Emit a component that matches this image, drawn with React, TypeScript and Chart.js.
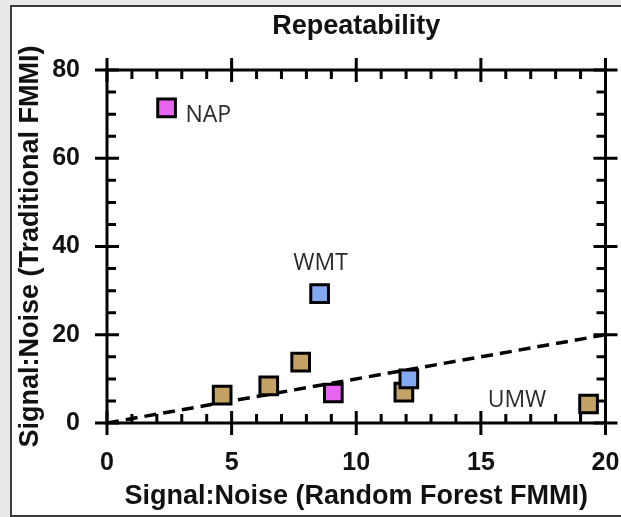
import React, { useEffect, useRef } from "react";
import { Chart, registerables } from "chart.js";

Chart.register(...registerables);

// ---- data ----
const pointX = [2.39, 8.53, 4.62, 6.49, 7.77, 9.08, 11.91, 12.11, 19.32];
const pointY = [71.4, 29.3, 6.3, 8.4, 13.8, 6.8, 7.0, 10.0, 4.3];
const pointGroup = ["NAP", "WMT", "UMW", "UMW", "UMW", "NAP", "UMW", "WMT", "UMW"];
const fitLineX = [0, 20];
const fitLineY = [0, 20];
const labelText = ["NAP", "WMT", "UMW"];
const labelX = [3.15, 8.57, 16.45];
const labelY = [69.8, 36.1, 5.0];
const xTicks = [0, 5, 10, 15, 20];
const yTicks = [0, 20, 40, 60, 80];

const groupColor: Record<string, string> = {
  NAP: "#E865F2",
  WMT: "#82AAF4",
  UMW: "#C4A266",
};

const FONT = "'Liberation Sans', Arial, sans-serif";

const frameAxesPlugin = {
  id: "frameAxes",
  beforeDatasetsDraw(chart: any) {
    const { ctx, chartArea } = chart;
    const xs = chart.scales.x;
    const ys = chart.scales.y;
    const { left, right, top, bottom } = chartArea;
    ctx.save();
    ctx.strokeStyle = "#000";
    ctx.lineWidth = 3;
    ctx.lineCap = "butt";
    ctx.beginPath();
    ctx.rect(left, top, right - left, bottom - top);
    ctx.stroke();
    const major = 12;
    const minor = 9;
    ctx.beginPath();
    for (let v = 0; v <= 20; v += 1) {
      const px = xs.getPixelForValue(v);
      const isMajor = v % 5 === 0;
      if (isMajor) {
        ctx.moveTo(px, bottom + major);
        ctx.lineTo(px, bottom - major);
        ctx.moveTo(px, top - major);
        ctx.lineTo(px, top + major);
      } else {
        ctx.moveTo(px, bottom);
        ctx.lineTo(px, bottom - minor);
        ctx.moveTo(px, top);
        ctx.lineTo(px, top + minor);
      }
    }
    for (let v = 0; v <= 80; v += 5) {
      const py = ys.getPixelForValue(v);
      const isMajor = v % 20 === 0;
      if (isMajor) {
        ctx.moveTo(left - major, py);
        ctx.lineTo(left + major, py);
        ctx.moveTo(right - major, py);
        ctx.lineTo(right + major, py);
      } else {
        ctx.moveTo(left, py);
        ctx.lineTo(left + minor, py);
        ctx.moveTo(right, py);
        ctx.lineTo(right - minor, py);
      }
    }
    ctx.stroke();
    ctx.restore();
  },
  afterDatasetsDraw(chart: any) {
    const { ctx } = chart;
    const xs = chart.scales.x;
    const ys = chart.scales.y;
    ctx.save();
    ctx.fillStyle = "#2a2a2a";
    ctx.font = "23px 'Open Sans'";
    ctx.textBaseline = "middle";
    labelText.forEach((t, i) => {
      ctx.textAlign = i === 0 ? "left" : "center";
      ctx.fillText(t, xs.getPixelForValue(labelX[i]), ys.getPixelForValue(labelY[i]));
    });
    ctx.restore();
  },
};

export default function App() {
  const ref = useRef<HTMLCanvasElement | null>(null);
  useEffect(() => {
    document.body.style.margin = "0";
    const canvas = ref.current!;
    const chart = new Chart(canvas, {
      type: "scatter",
      data: {
        datasets: [
          {
            type: "line",
            data: fitLineX.map((x, i) => ({ x, y: fitLineY[i] })),
            borderColor: "#000",
            borderWidth: 3.5,
            borderDash: [12, 7],
            pointRadius: 0,
            fill: false,
            order: 10,
          } as any,
          {
            type: "scatter",
            data: pointX.map((x, i) => ({ x, y: pointY[i] })),
            pointStyle: "rect",
            pointRadius: 12.5,
            pointHoverRadius: 12.5,
            pointBackgroundColor: pointGroup.map((g) => groupColor[g]),
            pointBorderColor: "#000",
            pointBorderWidth: 3,
            order: 1,
          },
        ],
      },
      options: {
        animation: false,
        responsive: false,
        maintainAspectRatio: false,
        events: [],
        layout: { padding: { left: 0, right: 0, top: 0, bottom: 0 } },
        plugins: {
          legend: { display: false },
          tooltip: { enabled: false },
          title: {
            display: true,
            text: "Repeatability",
            fullSize: false,
            color: "#111",
            font: { family: FONT, size: 27, weight: "bold", lineHeight: 1.2 },
            padding: { top: 10, bottom: 27.6 },
          },
        },
        scales: {
          x: {
            type: "linear",
            min: 0,
            max: 20,
            afterBuildTicks: (s: any) => {
              s.ticks = xTicks.map((v) => ({ value: v }));
            },
            afterFit: (s: any) => {
              s.height = 94;
              s.paddingRight = 12;
              s.paddingLeft = 0;
            },
            grid: { display: false, drawTicks: false },
            border: { display: false },
            ticks: {
              color: "#111",
              padding: 25,
              font: { family: FONT, size: 25, weight: "bold", lineHeight: 1.2 },
            },
            title: {
              display: true,
              text: "Signal:Noise (Random Forest FMMI)",
              color: "#111",
              font: { family: FONT, size: 27, weight: "bold", lineHeight: 1.2 },
              padding: { top: 0, bottom: 4 },
            },
          },
          y: {
            type: "linear",
            min: 0,
            max: 80,
            afterBuildTicks: (s: any) => {
              s.ticks = yTicks.map((v) => ({ value: v }));
            },
            afterFit: (s: any) => {
              s.width = 107;
            },
            grid: { display: false, drawTicks: false },
            border: { display: false },
            ticks: {
              color: "#111",
              padding: 27,
              font: { family: FONT, size: 25, weight: "bold", lineHeight: 1.2 },
            },
            title: {
              display: true,
              text: "Signal:Noise (Traditional FMMI)",
              color: "#111",
              font: { family: FONT, size: 27, weight: "bold", lineHeight: 1.2 },
              padding: { top: 14, bottom: 0 },
            },
          },
        },
      },
      plugins: [frameAxesPlugin],
    });
    return () => chart.destroy();
  }, []);

  return (
    <div style={{ position: "fixed", left: 0, top: 0, width: 621, height: 517, background: "#e8e8e8", overflow: "hidden" }}>
      <div
        style={{
          position: "absolute",
          left: 10,
          top: 5,
          width: 640,
          height: 508,
          background: "#fff",
          borderLeft: "2px solid #3a3a3a",
          borderTop: "2px solid #3a3a3a",
          borderBottom: "2px solid #3a3a3a",
        }}
      />
      <canvas ref={ref} width={621} height={517} style={{ position: "absolute", left: 0, top: 0, width: 621, height: 517 }} />
    </div>
  );
}
